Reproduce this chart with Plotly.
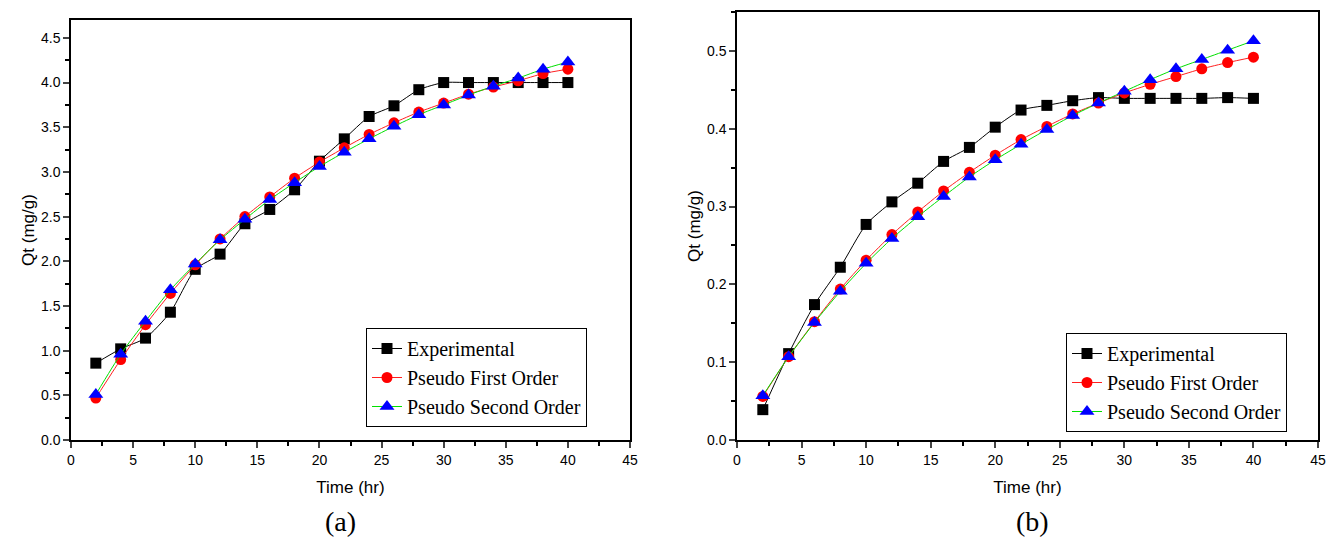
import plotly.graph_objects as go
from plotly.subplots import make_subplots

time_hr = [2, 4, 6, 8, 10, 12, 14, 16, 18, 20, 22, 24, 26, 28, 30, 32, 34, 36, 38, 40]

a_experimental = [0.86, 1.02, 1.14, 1.43, 1.91, 2.08, 2.42, 2.58, 2.80, 3.12, 3.37, 3.62, 3.74, 3.92, 4.00, 4.00, 4.00, 4.00, 4.00, 4.00]
a_first_order = [0.47, 0.90, 1.29, 1.64, 1.96, 2.25, 2.50, 2.72, 2.93, 3.11, 3.27, 3.42, 3.55, 3.67, 3.77, 3.87, 3.95, 4.02, 4.10, 4.15]
a_second_order = [0.51, 0.96, 1.33, 1.68, 1.97, 2.24, 2.47, 2.69, 2.88, 3.06, 3.22, 3.37, 3.51, 3.64, 3.75, 3.86, 3.96, 4.05, 4.15, 4.23]

b_experimental = [0.039, 0.111, 0.174, 0.222, 0.277, 0.306, 0.330, 0.358, 0.376, 0.402, 0.424, 0.430, 0.436, 0.440, 0.439, 0.439, 0.439, 0.439, 0.440, 0.439]
b_first_order = [0.056, 0.107, 0.152, 0.194, 0.231, 0.264, 0.293, 0.320, 0.344, 0.366, 0.386, 0.403, 0.419, 0.433, 0.446, 0.457, 0.467, 0.477, 0.485, 0.492]
b_second_order = [0.057, 0.107, 0.151, 0.191, 0.227, 0.259, 0.287, 0.313, 0.338, 0.360, 0.380, 0.399, 0.417, 0.433, 0.448, 0.463, 0.477, 0.489, 0.501, 0.513]

series_names = ["Experimental", "Pseudo First Order", "Pseudo Second Order"]
x_ticks = [0, 5, 10, 15, 20, 25, 30, 35, 40, 45]
panel_labels = ["(a)", "(b)"]

W, H = 1328, 540

fig = make_subplots(rows=1, cols=2)

styles = [
    dict(line=dict(color="black", width=1), marker=dict(symbol="square", size=11, color="black")),
    dict(line=dict(color="#ff2020", width=1), marker=dict(symbol="circle", size=11, color="#ff0000")),
    dict(line=dict(color="#00e000", width=1), marker=dict(symbol="triangle-up", size=13, color="#0000ff")),
]

for col, (data, leg) in enumerate([((a_experimental, a_first_order, a_second_order), "legend"),
                                   ((b_experimental, b_first_order, b_second_order), "legend2")], start=1):
    for name, ys, st in zip(series_names, data, styles):
        fig.add_trace(go.Scatter(
            x=time_hr, y=ys, name=name, mode="lines+markers",
            line=dict(shape="spline", smoothing=0.6, **st["line"]),
            marker=st["marker"], legend=leg,
        ), row=1, col=col)

axis_font = dict(family="Liberation Sans, Arial", size=14, color="black")
title_font = dict(family="Liberation Sans, Arial", size=17, color="black")
common_x = dict(
    range=[0, 45], tickvals=x_ticks, ticks="outside", ticklen=6, tickwidth=1.5,
    showline=True, linecolor="black", linewidth=1.5, mirror=True, showgrid=False, zeroline=False,
    tickfont=axis_font, automargin=False,
    minor=dict(ticks="outside", ticklen=4, dtick=2.5, tickcolor="black", tickwidth=1.5, showgrid=False),
    title=dict(text="Time (hr)", font=title_font, standoff=15),
)
common_y = dict(
    ticks="outside", ticklen=6, tickwidth=1.5, tickformat=".1f",
    showline=True, linecolor="black", linewidth=1.5, mirror=True, showgrid=False, zeroline=False,
    tickfont=axis_font, automargin=False,
    title=dict(text="Qt (mg/g)", font=title_font, standoff=2),
)

fig.update_layout(
    width=W, height=H, margin=dict(l=0, r=0, t=0, b=0),
    paper_bgcolor="white", plot_bgcolor="white",
    xaxis=dict(domain=[71 / W, 630 / W], **common_x),
    xaxis2=dict(domain=[737 / W, 1318 / W], **common_x),
    yaxis=dict(domain=[(H - 440) / H, (H - 20) / H], range=[0, 4.7], dtick=0.5,
               minor=dict(ticks="outside", ticklen=4, dtick=0.25, tickcolor="black", tickwidth=1.5, showgrid=False),
               **common_y),
    yaxis2=dict(domain=[(H - 440) / H, (H - 12) / H], range=[0, 0.55], dtick=0.1,
                minor=dict(ticks="outside", ticklen=4, dtick=0.05, tickcolor="black", tickwidth=1.5, showgrid=False),
                **common_y),
    legend=dict(x=366 / W, y=(H - 427) / H, xanchor="left", yanchor="bottom",
                bordercolor="black", borderwidth=1, bgcolor="white",
                font=dict(family="Liberation Serif, Times New Roman", size=20, color="black"),
                tracegroupgap=0, itemwidth=30),
    legend2=dict(x=1066 / W, y=(H - 432) / H, xanchor="left", yanchor="bottom",
                 bordercolor="black", borderwidth=1, bgcolor="white",
                 font=dict(family="Liberation Serif, Times New Roman", size=20, color="black"),
                 tracegroupgap=0, itemwidth=30),
)

for label, xc in zip(panel_labels, [340, 1032]):
    fig.add_annotation(text=label, x=xc / W, y=(H - 521) / H, xref="paper", yref="paper",
                       showarrow=False, font=dict(family="Liberation Serif, Times New Roman", size=28, color="black"),
                       xanchor="center", yanchor="middle")

fig.write_html("out.html")
